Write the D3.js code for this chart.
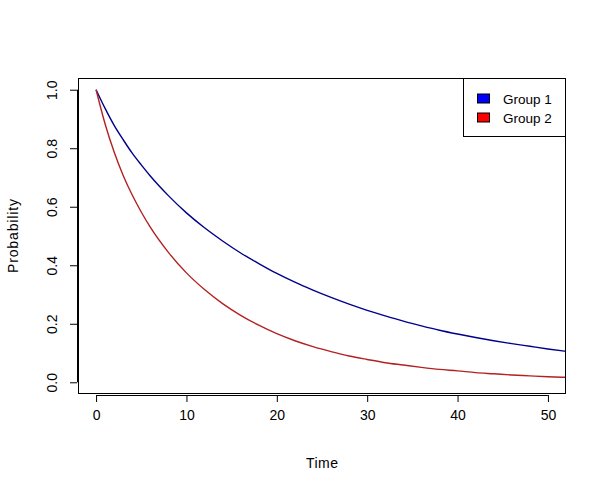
<!DOCTYPE html>
<html>
<head>
<meta charset="utf-8">
<script src="https://cdn.jsdelivr.net/npm/d3@7"></script>
<style>
  html, body { margin: 0; padding: 0; background: #fff; }
  svg { display: block; font-family: "Liberation Sans", Arial, sans-serif; }
</style>
</head>
<body>
<svg id="chart" width="607" height="492"></svg>
<script>
// ---- data ----
const times = [0, 1, 2, 3, 4, 5, 6, 8, 10, 12, 14, 16, 18, 20, 22, 24, 26, 28, 30, 32, 34, 36, 38, 40, 42, 44, 46, 48, 50, 52];
const group1 = [1.0, 0.936, 0.878, 0.829, 0.783, 0.743, 0.705, 0.638, 0.579, 0.528, 0.483, 0.442, 0.406, 0.372, 0.342, 0.315, 0.290, 0.267, 0.246, 0.227, 0.209, 0.193, 0.178, 0.165, 0.153, 0.142, 0.132, 0.123, 0.114, 0.106];
const group2 = [1.0, 0.883, 0.787, 0.707, 0.640, 0.582, 0.530, 0.444, 0.374, 0.317, 0.269, 0.229, 0.195, 0.166, 0.142, 0.122, 0.105, 0.090, 0.078, 0.067, 0.059, 0.051, 0.044, 0.039, 0.033, 0.029, 0.025, 0.022, 0.019, 0.017];
const seriesNames = ["Group 1", "Group 2"];
const lineColors = ["#00008B", "#B22222"];
const legendFills = ["#0000FF", "#FF0000"];
const xTicks = [0, 10, 20, 30, 40, 50];
const yTicks = [0.0, 0.2, 0.4, 0.6, 0.8, 1.0];
const xLabel = "Time";
const yLabel = "Probability";

// ---- layout ----
const svg = d3.select("#chart");
const L = 78, R = 566, T = 78, B = 394;
const x = d3.scaleLinear().domain([-2, 52]).range([L, R]);
const y = d3.scaleLinear().domain([-0.04, 1.04]).range([B, T]);
const FONT = "Liberation Sans, Arial, sans-serif";

svg.append("defs").append("clipPath").attr("id", "plotclip")
  .append("rect").attr("x", L).attr("y", T).attr("width", R - L).attr("height", B - T);

// curves
const line = d3.line().x(d => x(d[0])).y(d => y(d[1])).curve(d3.curveMonotoneX);
const g = svg.append("g").attr("clip-path", "url(#plotclip)");
[group1, group2].forEach((vals, i) => {
  g.append("path")
    .datum(times.map((t, j) => [t, vals[j]]))
    .attr("d", line)
    .attr("fill", "none")
    .attr("stroke", lineColors[i])
    .attr("stroke-width", 1.4);
});

// box
svg.append("rect").attr("x", L + 0.5).attr("y", T + 0.5)
  .attr("width", R - L - 1).attr("height", B - T - 1)
  .attr("fill", "none").attr("stroke", "#000").attr("stroke-width", 1);

// x axis
const xAxis = d3.axisBottom(x).tickValues(xTicks).tickSize(7).tickPadding(8).tickFormat(d3.format("d"));
const gx = svg.append("g").attr("transform", `translate(0,${B + 1})`).call(xAxis);
gx.attr("font-size", 14).attr("font-family", FONT);
gx.select(".domain").attr("d", `M${x(xTicks[0])},0.5H${x(xTicks[xTicks.length - 1])}`).attr("stroke", "#000");
gx.selectAll(".tick line").attr("stroke", "#000");
gx.selectAll(".tick text").attr("font-size", 14).attr("fill", "#000").attr("font-family", FONT);

// y axis
const yAxis = d3.axisLeft(y).tickValues(yTicks).tickSize(7).tickFormat(d3.format(".1f"));
const gy = svg.append("g").attr("transform", `translate(${L - 1},0)`).call(yAxis);
gy.attr("font-size", 14).attr("font-family", FONT);
gy.select(".domain").attr("d", `M0.5,${y(yTicks[0])}V${y(yTicks[yTicks.length - 1])}`).attr("stroke", "#000");
gy.selectAll(".tick line").attr("stroke", "#000");
gy.selectAll(".tick text")
  .attr("font-size", 14).attr("fill", "#000").attr("font-family", FONT)
  .attr("x", null).attr("dy", null)
  .attr("text-anchor", "middle")
  .attr("transform", "translate(-20.5,0) rotate(-90)");

// axis titles
svg.append("text").attr("x", (L + R) / 2).attr("y", 468)
  .attr("text-anchor", "middle").attr("font-size", 14).attr("font-family", FONT).attr("fill", "#000")
  .attr("textLength", 32).attr("lengthAdjust", "spacing").text(xLabel);
svg.append("text").attr("transform", `translate(18,${(T + B) / 2}) rotate(-90)`)
  .attr("text-anchor", "middle").attr("font-size", 14).attr("font-family", FONT).attr("fill", "#000")
  .attr("textLength", 74).attr("lengthAdjust", "spacing").text(yLabel);

// legend
const lg = svg.append("g");
lg.append("rect").attr("x", 463.5).attr("y", T + 0.5).attr("width", R - 464).attr("height", 58)
  .attr("fill", "#fff").attr("stroke", "#000").attr("stroke-width", 1);
seriesNames.forEach((name, i) => {
  const cy = 98.5 + i * 19;
  lg.append("rect").attr("x", 477.5).attr("y", cy - 4.5).attr("width", 12).attr("height", 9)
    .attr("fill", legendFills[i]).attr("stroke", "#000").attr("stroke-width", 1);
  lg.append("text").attr("x", 503).attr("y", cy + 5)
    .attr("font-size", 13.5).attr("font-family", FONT).attr("fill", "#000").text(name);
});
</script>
</body>
</html>
